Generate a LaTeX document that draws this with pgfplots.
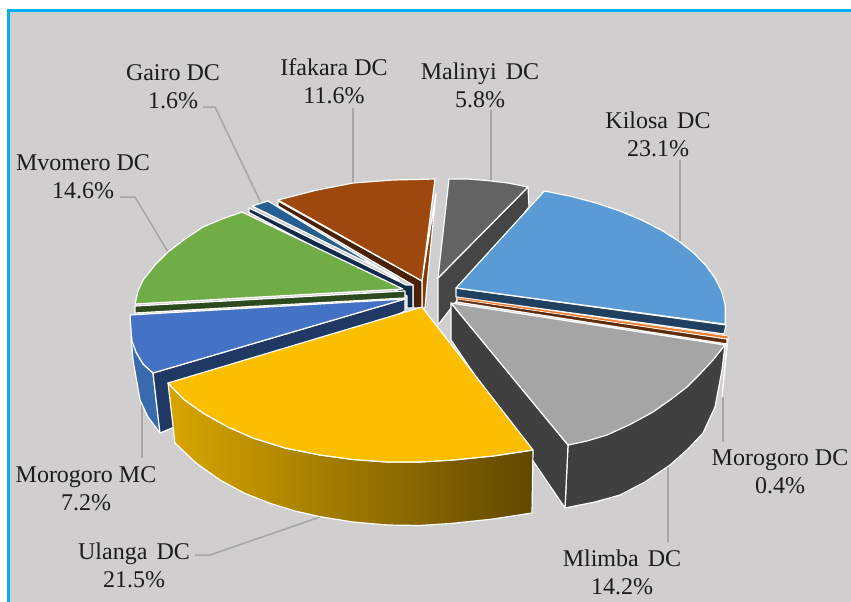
\documentclass[border=0pt]{standalone}
\usepackage{pgfplots}
\usepackage{fontspec}
\setmainfont{Liberation Serif}
\pgfplotsset{compat=1.18}
\definecolor{bgcol}{HTML}{D0CECE}
\definecolor{framecol}{HTML}{00B0F0}
\definecolor{leadcol}{HTML}{A6A6A6}
\definecolor{txtcol}{HTML}{1C1C1C}
\newcommand{\wsp}{\hspace{0.38em}}
\tikzset{
  edge/.style={draw=white,line width=1.2pt,line join=round},
  lead/.style={draw=leadcol,line width=1.5pt,line join=round},
  lab/.style={font=\fontsize{24}{28}\selectfont,align=center,text=txtcol,inner sep=0pt},
}
\begin{document}
\begin{tikzpicture}
\begin{axis}[
    hide axis,
    scale only axis,
    width=851pt,
    height=602pt,
    xmin=0, xmax=851,
    ymin=0, ymax=602,
    y dir=reverse,
]
% page and frame
\addplot[fill=white,draw=none] coordinates {(0,0) (851,0) (851,602) (0,602)} --cycle;
\addplot[fill=bgcol,draw=framecol,line width=3pt] coordinates {(8.5,10.5) (860,10.5) (860,612) (8.5,612)} --cycle;

% leader lines
\addplot[lead] coordinates {(203,107) (215,107) (262,205)};
\addplot[lead] coordinates {(120,197) (135,197) (168,252)};
\addplot[lead] coordinates {(353,108) (353,183)};
\addplot[lead] coordinates {(491,110) (491,181)};
\addplot[lead] coordinates {(680,160) (680,241)};
\addplot[lead] coordinates {(723,397) (723,442)};
\addplot[lead] coordinates {(668,467) (668,542)};
\addplot[lead] coordinates {(142,403) (142,458)};
\addplot[lead] coordinates {(320,517) (210,555) (195,555)};

% Malinyi DC
\addplot[edge,fill=black!73] coordinates {(438,278) (528,187) (529,207) (438,325)} --cycle;
\addplot[edge,fill=black!61] coordinates {(438,278) (449,179) (467,179) (487,180.5) (508,183) (528,187)} --cycle;

% Ifakara DC
\addplot[edge,fill={rgb,255:red,132;green,60;blue,12}] coordinates {(436,193) (427,285) (425,308) (422,308) (422,281)} --cycle;
\addplot[edge,fill={rgb,255:red,74;green,33;blue,4}] coordinates {(278,201) (278,206) (413,285) (413,308) (422,308) (422,281)} --cycle;
\addplot[edge,fill={rgb,255:red,158;green,72;blue,14}] coordinates {(422,281) (278,200) (315,190.5) (353,183) (393,180) (435,179)} --cycle;

% Gairo DC
\addplot[edge,fill={rgb,255:red,14;green,43;blue,75}] coordinates {(249,208) (249,212.5) (407,296) (407,308) (413,308) (413,285) (406,285)} --cycle;
\addplot[edge,fill={rgb,255:red,37;green,94;blue,145}] coordinates {(252,206) (268,201) (400,281) (392,275)} --cycle;

% Mvomero DC
\addplot[edge,fill={rgb,255:red,45;green,74;blue,30}] coordinates {(135,306) (405,291) (405,298) (135,313)} --cycle;
\addplot[edge,fill={rgb,255:red,112;green,173;blue,71}] coordinates {(403,289) (135,304) (138,291) (143,280) (155,265) (168,252) (185,239) (203,227) (222,219) (242,212)} --cycle;

% Morogoro MC
\addplot[edge,fill={rgb,255:red,58;green,106;blue,174}] coordinates {(131,335) (133,360) (140,400) (148,417) (160,433) (153,373) (143,364) (136,352)} --cycle;
\addplot[edge,fill={rgb,255:red,31;green,56;blue,100}] coordinates {(405,299) (405,311) (172,428) (160,433) (153,373)} --cycle;
\addplot[edge,fill={rgb,255:red,68;green,114;blue,196}] coordinates {(405,299) (130,315) (131,330) (132,341) (136,352) (143,364) (153,373)} --cycle;

% Kilosa DC
\addplot[edge,fill={rgb,255:red,32;green,64;blue,96}] coordinates {(456,288) (456,297) (724,334) (726,325)} --cycle;
\addplot[edge,fill={rgb,255:red,91;green,155;blue,213}] coordinates {(456,288) (544.4,191) (570.9,196.3) (596.3,203.1) (620,211) (641.8,220.1) (661.4,230.1) (678.8,241.2) (693.7,253) (705.9,265.5) (715.3,278.6) (721.9,292) (725.3,305.8) (725.3,324.2)} --cycle;

% Morogoro DC
\addplot[edge,fill={rgb,255:red,140;green,74;blue,30}] coordinates {(727,343) (728,338) (722,397)} --cycle;
\addplot[edge,fill={rgb,255:red,94;green,45;blue,14}] coordinates {(457,298) (727,339) (727,344) (457,302)} --cycle;
\addplot[draw=white,line width=0.6pt,fill={rgb,255:red,237;green,125;blue,49}] coordinates {(457,297) (728,336) (728,339) (457,299)} --cycle;

% Mlimba DC
\addplot[edge,fill=black!75] coordinates {(568,445) (565,508) (595,502) (620,495) (645,482) (670,465) (688,449) (703,433) (715,407) (722,370) (725,345)} --cycle;
\addplot[edge,fill=black!75] coordinates {(451,303) (451,340) (565,508) (568,445)} --cycle;
\addplot[edge,fill={rgb,255:red,165;green,165;blue,165}] coordinates {(451,303) (725,345) (713,360) (700,374) (687,387) (670,400) (653,412) (630,424.5) (607,435) (587,441) (568,445)} --cycle;

% Ulanga DC
\addplot[edge,left color={rgb,255:red,216;green,166;blue,0},right color={rgb,255:red,96;green,72;blue,0}] coordinates {(168,383) (184,399.5) (203,413) (227,426.5) (253,438) (285,448) (320,455) (353,459.5) (387,462) (420,462) (453,460) (493,456) (533,450) (532,513) (493,519) (453,523.3) (420,525.5) (387,525) (353,522) (320,516.7) (295,511) (270,503.3) (244,493) (220,480) (196,463) (175,443)} --cycle;
\addplot[edge,fill={rgb,255:red,251;green,190;blue,0}] coordinates {(422,307) (168,383) (184,399.5) (203,413) (227,426.5) (253,438) (285,448) (320,455) (353,459.5) (387,462) (420,462) (453,460) (493,456) (533,450)} --cycle;

% labels
\node[lab] at (axis cs:173,87) {Gairo DC\\1.6\%};
\node[lab] at (axis cs:334,81) {Ifakara DC\\11.6\%};
\node[lab] at (axis cs:480,85) {Malinyi\wsp DC\\5.8\%};
\node[lab] at (axis cs:658,134) {Kilosa\wsp DC\\23.1\%};
\node[lab] at (axis cs:83,177) {Mvomero DC\\14.6\%};
\node[lab] at (axis cs:780,472) {Morogoro DC\\0.4\%};
\node[lab] at (axis cs:622,572) {Mlimba\wsp DC\\14.2\%};
\node[lab] at (axis cs:86,489) {Morogoro MC\\7.2\%};
\node[lab] at (axis cs:134,565) {Ulanga\wsp DC\\21.5\%};
\end{axis}
\end{tikzpicture}
\end{document}
